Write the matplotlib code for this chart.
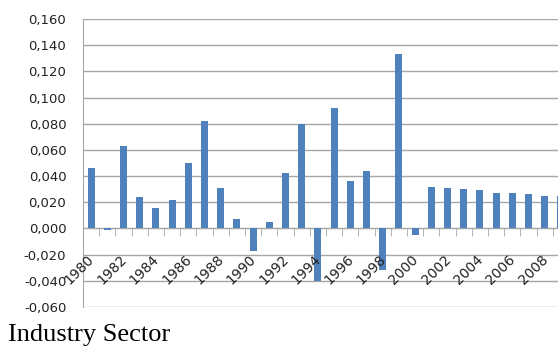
import matplotlib.pyplot as plt
import matplotlib.transforms as mtransforms
import numpy as np

# Data
years = list(range(1980, 2010))
values = [0.046, -0.001, 0.063, 0.024, 0.016, 0.022, 0.050, 0.082, 0.031, 0.007,
          -0.017, 0.005, 0.042, 0.080, -0.040, 0.092, 0.036, 0.044, -0.032, 0.133,
          -0.005, 0.032, 0.031, 0.030, 0.029, 0.027, 0.027, 0.026, 0.025, 0.025]
yticks = [-0.06, -0.04, -0.02, 0.0, 0.02, 0.04, 0.06, 0.08, 0.10, 0.12, 0.14, 0.16]

W, H = 558, 347
fig = plt.figure(figsize=(W / 100, H / 100), dpi=100)
# plot area runs past the right edge (the original picture is cropped)
left, right, top, bottom = 83, 569, 19, 307
ax = fig.add_axes([left / W, 1 - bottom / H, (right - left) / W, (bottom - top) / H])

x = np.arange(len(years))
ax.bar(x, values, width=0.42, color='#4F81BD', zorder=3)

ax.set_xlim(-0.5, len(years) - 0.5)
ax.set_ylim(-0.06, 0.16)
ax.set_yticks(yticks)
ax.set_yticklabels([f"{v:.3f}".replace('.', ',') for v in yticks],
                   fontsize=9.5, color='#222222')
ax.yaxis.grid(True, color='#a6a6a6', linewidth=1.0, zorder=0)
ax.tick_params(axis='y', length=0, pad=12)

# category axis at zero
ax.spines['bottom'].set_position(('data', 0))
for s in ['top', 'right']:
    ax.spines[s].set_visible(False)
ax.spines['left'].set_color('#a6a6a6')
ax.spines['bottom'].set_color('#a6a6a6')

ax.set_xticks([])
ax.set_xticks(np.arange(len(years) + 1) - 0.5, minor=True)
ax.tick_params(axis='x', which='minor', length=6, direction='out', color='#a6a6a6')

# rotated category labels below the zero line
offset = mtransforms.ScaledTranslation(-4 / 100, -24 / 100, fig.dpi_scale_trans)
for xi, yr in zip(x[::2], years[::2]):
    ax.text(xi, 0, str(yr), transform=ax.transData + offset, rotation=45,
            rotation_mode='anchor', ha='right', va='top', fontsize=10,
            color='#222222', zorder=4)

fig.text(8 / W, 1 - 341 / H, 'Industry Sector', family='Liberation Serif',
         fontsize=19, color='black', va='baseline', ha='left')

fig.savefig('out.png', dpi=100)
